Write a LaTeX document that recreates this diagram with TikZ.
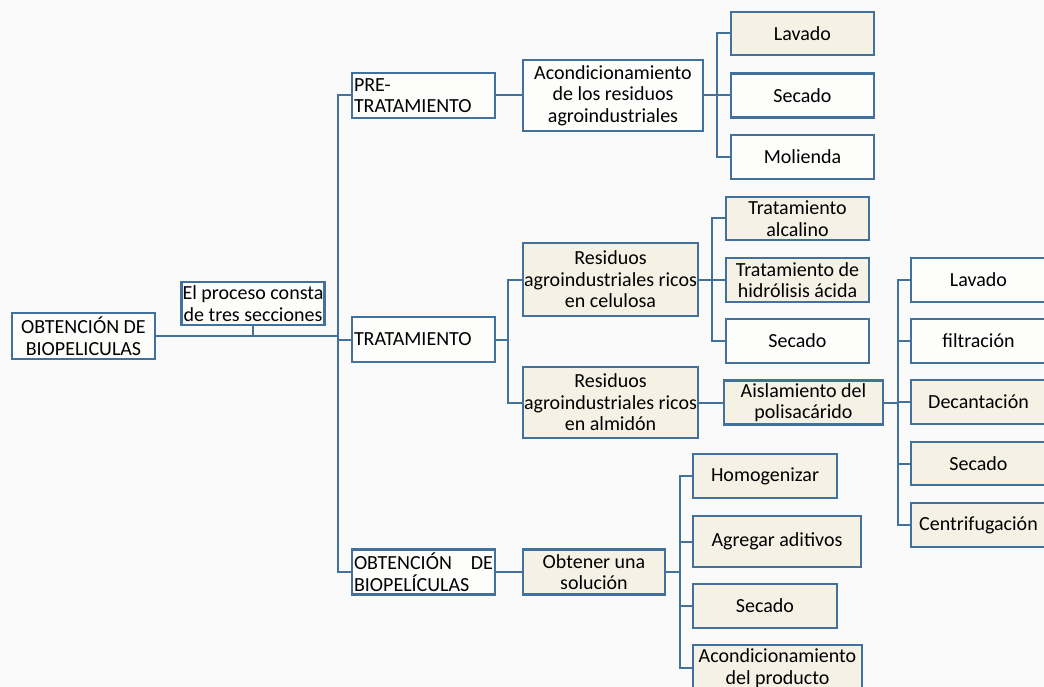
\documentclass[tikz,border=0pt]{standalone}
\usepackage{fontspec}
\setmainfont{Carlito}
\usepackage{tikz}
\definecolor{azul}{HTML}{41719C}
\definecolor{beige}{HTML}{F5F1E5}
\definecolor{blanco}{HTML}{FDFDFC}
\definecolor{fondo}{HTML}{FAFAFA}
\tikzset{
	caja/.style={draw=azul, line width=2.4pt, inner sep=1pt, align=center, text=black,
		font=\fontsize{20}{21.5}\selectfont},
	seccion/.style={caja, fill=blanco, text width=139pt, inner xsep=2pt, minimum height=45pt, align=left},
	rama/.style={draw=azul, line width=2pt}
}
\newcommand{\Caja}[7]{
	\node[caja, fill=#6, minimum width=#4pt, minimum height=#5pt] (#1) at (#2,#3) {#7};
}

\begin{document}
\begin{tikzpicture}[x=1pt,y=-1pt]
	\useasboundingbox[fill=fondo] (0,0) rectangle (1044,687);
	\Caja{raiz}{83.5}{336}{143}{46}{blanco}{OBTENCIÓN DE\\BIOPELICULAS}
	\Caja{proceso}{253}{303.5}{142}{43}{blanco}{El proceso consta\\de tres secciones}

	\node[seccion] (pre) at (423.5,95.5) {PRE-\\TRATAMIENTO};
	\node[seccion] (trat) at (423.5,339.5) {TRATAMIENTO};
	\node[seccion] (obt) at (423.5,572) {OBTENCIÓN\hfill DE\\BIOPELÍCULAS};

	% pre-tratamiento
	\Caja{acond}{613}{95.5}{180}{71}{blanco}{Acondicionamiento\\de los residuos\\agroindustriales}
	\Caja{lav1}{802.5}{33.5}{143}{43}{beige}{Lavado}
	\Caja{sec1}{802.5}{95.5}{143}{44}{blanco}{Secado}
	\Caja{mol}{802.5}{157}{143}{44}{blanco}{Molienda}

	% tratamiento
	\Caja{celul}{610.5}{279.5}{175}{73}{beige}{Residuos\\agroindustriales ricos\\en celulosa}
	\Caja{almid}{610.5}{402.5}{175}{71}{beige}{Residuos\\agroindustriales ricos\\en almidón}
	\Caja{alcal}{797.5}{218.5}{143}{43}{beige}{Tratamiento\\alcalino}
	\Caja{hidro}{797.5}{280}{143}{44}{beige}{Tratamiento de\\hidrólisis ácida}
	\Caja{sec2}{797.5}{341}{143}{44}{blanco}{Secado}
	\Caja{aisl}{803.5}{402.5}{159}{44}{beige}{Aislamiento del\\polisacárido}
	\Caja{lav2}{978.5}{280}{135}{44}{blanco}{Lavado}
	\Caja{filt}{978.5}{341}{135}{44}{blanco}{filtración}
	\Caja{decan}{978.5}{402}{135}{44}{beige}{Decantación}
	\Caja{sec3}{978.5}{463.5}{135}{43}{beige}{Secado}
	\Caja{centr}{978.5}{525}{135}{44}{beige}{Centrifugación}

	% obtencion
	\Caja{solu}{594}{572}{142}{45}{beige}{Obtener una\\solución}
	\Caja{homo}{765}{476}{144}{44}{beige}{Homogenizar}
	\Caja{agreg}{777}{541.5}{168}{51}{beige}{Agregar aditivos}
	\Caja{sec4}{765}{606}{144}{44}{beige}{Secado}
	\Caja{acond2}{777.5}{668}{169}{46}{beige}{Acondicionamiento\\del producto}

	\coordinate (tronco) at (338,336);
	\coordinate (b1) at (717,95.5);
	\coordinate (b2) at (508,339.5);
	\coordinate (b3) at (712,279.5);
	\coordinate (b4) at (898,402.5);
	\coordinate (b5) at (680,572);

	\draw[rama] (raiz.east) -- (tronco);
	\draw[rama] (proceso.south) -- (proceso.south |- tronco);
	\foreach \n in {pre,trat,obt}
		\draw[rama] (tronco) |- (\n.west);
	\draw[rama] (pre.east) -- (acond.west);
	\draw[rama] (acond.east) -- (b1);
	\foreach \n in {lav1,sec1,mol}
		\draw[rama] (b1) |- (\n.west);
	\draw[rama] (trat.east) -- (b2);
	\foreach \n in {celul,almid}
		\draw[rama] (b2) |- (\n.west);
	\draw[rama] (celul.east) -- (b3);
	\foreach \n in {alcal,hidro,sec2}
		\draw[rama] (b3) |- (\n.west);
	\draw[rama] (almid.east) -- (aisl.west);
	\draw[rama] (aisl.east) -- (b4);
	\foreach \n in {lav2,filt,decan,sec3,centr}
		\draw[rama] (b4) |- (\n.west);
	\draw[rama] (obt.east) -- (solu.west);
	\draw[rama] (solu.east) -- (b5);
	\foreach \n in {homo,agreg,sec4,acond2}
		\draw[rama] (b5) |- (\n.west);
\end{tikzpicture}
\end{document}
